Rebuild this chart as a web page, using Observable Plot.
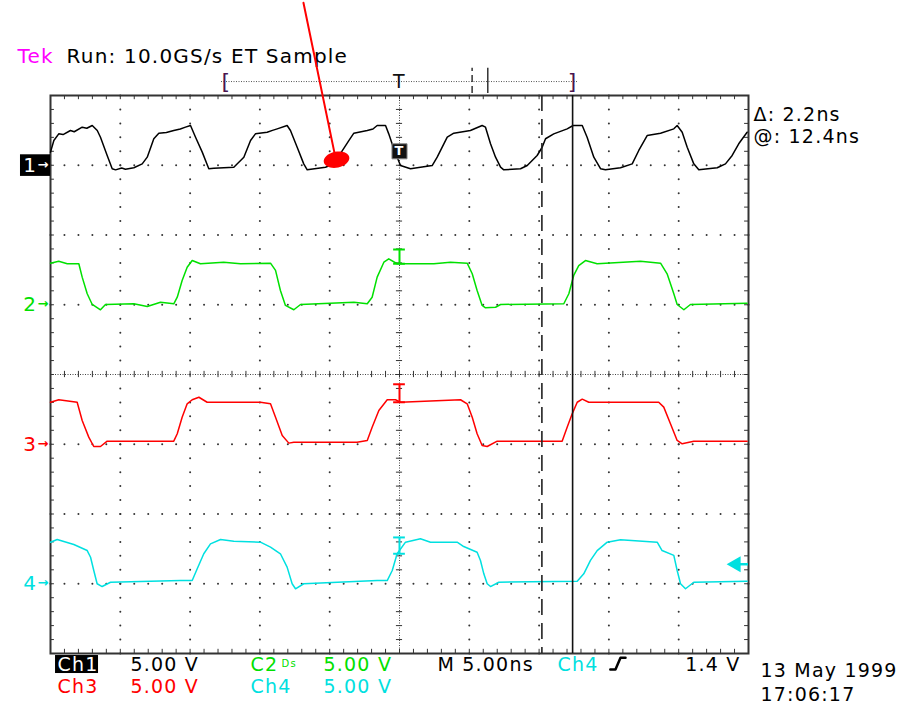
<!DOCTYPE html>
<html><head><meta charset="utf-8">
<script src="https://cdn.jsdelivr.net/npm/d3@7"></script>
<script src="https://cdn.jsdelivr.net/npm/@observablehq/plot@0.6"></script>
<style>
body{margin:0;background:#fff;}
#chart svg text{letter-spacing:1.2px;}
</style></head><body><div id="chart"></div>
<script>
// ---- scope settings ----
const channelNames = ["1", "2", "3", "4"];
const channelColors = ["#000000", "#00e000", "#ff0000", "#00e0e0"];
const channelOffsetDiv = [3, 1, -1, -3];
const voltsPerDiv = [5.00, 5.00, 5.00, 5.00];
const timePerDiv = 5.00;            // ns / div
const sampleRate = "10.0GS/s";
const cursorA = 10.2, cursorB = 12.4; // ns from trigger
const triggerLevel = 1.4;           // V on Ch4
const recordRatio = 0.51;           // record-view compression
const dateText = "13 May 1999", timeText = "17:06:17";

// ---- waveforms: time (ns from trigger) and volts ----
const ch1T = [-25,-24.76,-24.41,-24.1,-23.57,-23.3,-22.73,-22.4,-22.01,-21.65,-21.42,-20.94,-20.58,-20.34,-19.9,-19.63,-19.03,-18.43,-18.07,-17.6,-17.24,-16.7,-16.17,-15.7,-15.33,-14.97,-14.61,-14.13,-13.66,-13.3,-11.87,-11.15,-10.67,-10.32,-9.48,-9.1,-8.76,-8.05,-7.81,-7.33,-6.86,-6.61,-5.3,-4.71,-3.63,-3.27,-2.31,-1.9,-1.6,-1.0,-0.77,-0.41,0.07,0.79,1.5,2.34,2.7,3.42,3.89,5.08,5.92,6.16,6.52,6.88,7.24,7.47,8.67,9.15,9.86,10.22,10.46,11.05,12.01,12.44,13.09,13.44,13.92,14.4,14.75,15.83,16.67,17.14,17.74,18.7,19.65,19.89,20.25,20.61,21.08,21.44,22.76,23.35,23.83,24.3,24.9];
const ch1V = [0.94,1.77,2.25,2.2,2.49,2.4,2.73,2.65,2.85,2.49,2.01,0.7,-0.25,-0.33,-0.2,-0.28,-0.18,0.1,0.58,1.9,2.3,2.35,2.49,2.6,2.73,2.85,2.01,0.94,-0.25,-0.21,-0.14,0.58,1.77,2.25,2.37,2.5,2.61,2.85,2.49,1.29,0.1,-0.33,-0.14,0.1,1.77,2.3,2.49,2.6,2.85,2.85,2.25,1.18,-0.02,-0.25,-0.14,-0.02,0.58,2.01,2.3,2.49,2.85,2.73,1.54,0.58,-0.14,-0.33,-0.25,-0.02,0.7,1.29,1.9,2.25,2.61,2.85,2.85,2.01,0.58,-0.25,-0.33,-0.18,0.1,1.06,2.13,2.3,2.61,2.85,2.37,1.29,0.1,-0.33,-0.18,0.1,0.7,1.54,2.37];

const ch2T = [-25,-24.41,-23.8,-22.97,-22.73,-22.37,-22.01,-21.42,-21.06,-19.03,-18.07,-17.12,-16.17,-15.92,-15.57,-15.21,-14.85,-14.26,-12.6,-11.39,-9.24,-8.88,-8.53,-8.17,-7.57,-7.09,-3.27,-2.31,-1.96,-1.6,-1.12,-0.77,-0.17,2.46,3.65,4.85,5.21,5.56,5.92,6.16,6.88,7.24,11.77,12.13,12.48,12.84,13.32,14.16,17.26,18.7,19.17,19.65,19.89,20.37,20.84,24.9];
const ch2V = [2.98,3.12,2.94,2.94,1.98,0.79,0.02,-0.36,0.02,0.07,-0.13,0.18,0.07,0.54,1.74,2.69,3.17,2.94,3.05,2.94,2.98,2.46,1.02,-0.05,-0.36,0.02,0.18,0.07,0.54,1.98,3.05,3.29,2.94,2.94,3.05,2.98,2.22,1.02,-0.05,-0.22,-0.18,0.02,0.07,0.79,2.1,2.81,3.17,2.94,3.12,2.98,2.22,0.79,0.02,-0.36,0.02,0.11];

const ch3T = [-25,-24.41,-23.09,-22.73,-22.26,-21.9,-21.42,-20.94,-19.51,-16.17,-15.92,-15.57,-15.21,-14.85,-14.37,-13.78,-9.96,-9.24,-8.88,-8.4,-7.93,-7.57,-3.04,-2.31,-1.96,-1.48,-0.88,-0.29,0.07,4.37,4.85,5.21,5.56,5.92,6.28,7.0,11.65,12.01,12.37,12.73,13.09,13.56,18.57,18.93,19.41,19.89,20.25,21.08,24.9];
const ch3V = [3.01,3.19,3.01,1.7,0.51,-0.16,-0.16,0.22,0.22,0.22,0.75,1.94,2.9,3.19,3.37,3.01,3.01,2.9,1.94,0.63,0.08,0.15,0.15,0.27,1.22,2.42,3.19,3.19,3.01,3.19,2.9,1.94,0.75,-0.09,-0.16,0.22,0.22,1.22,2.18,3.01,3.23,3.01,3.01,2.66,1.47,0.27,0.03,0.22,0.22];

const ch4T = [-25,-24.52,-23.33,-22.37,-22.13,-21.9,-21.66,-21.3,-20.7,-15.69,-14.85,-14.49,-14.02,-13.54,-12.82,-11.87,-9.96,-9.24,-8.53,-8.05,-7.69,-7.45,-6.86,-1.6,-0.88,-0.52,-0.17,0.43,1.5,2.22,4.13,4.6,5.56,5.8,6.04,6.28,6.52,7.11,12.73,13.2,13.68,14.16,14.88,15.83,18.46,18.81,19.65,19.89,20.13,20.49,21.08,24.9];
const ch4V = [2.98,3.17,2.81,2.38,1.9,0.95,0.0,-0.2,0.11,0.23,0.23,1.07,2.15,2.86,3.17,3.05,2.98,2.62,2.15,1.19,0.0,-0.36,0.0,0.23,0.23,0.95,2.15,2.98,3.22,2.98,2.98,2.67,2.26,1.67,0.71,0.0,-0.2,0.11,0.18,0.71,1.67,2.38,2.98,3.15,2.98,2.38,2.03,0.95,0.0,-0.36,0.11,0.18];

const waveT = [ch1T, ch2T, ch3T, ch4T];
const waveV = [ch1V, ch2V, ch3V, ch4V];
// trigger-position icons per channel (volts, bottom..top)
const markerLo = [null, 2.94, 3.01, 2.15];
const markerHi = [null, 3.96, 4.3, 3.32];

// ---- derived tables ----
const toDiv = (v, i) => channelOffsetDiv[i] + v / voltsPerDiv[i];
const waves = waveT.map((T, i) => T.map((t, j) => ({t, y: toDiv(waveV[i][j], i)})));
const halfSpan = 5 * timePerDiv;
const minorT = d3.range(-halfSpan, halfSpan + 0.001, timePerDiv / 5).map(v => +v.toFixed(3));
const minorY = d3.range(-4, 4.001, 0.2).map(v => +v.toFixed(2));
const majorT = d3.range(-halfSpan + timePerDiv, halfSpan, timePerDiv).filter(t => Math.abs(t) > 1e-9);
const gridDots = [];
for (const y of [-3, -2, -1, 1, 2, 3]) for (const t of minorT) gridDots.push({t, y});
for (const t of majorT) for (const y of minorY) gridDots.push({t, y});

const ellipse = {draw(ctx) {
  const rx = 13, ry = 8, k = 0.5523;
  ctx.moveTo(rx, 0);
  ctx.bezierCurveTo(rx, ry * k, rx * k, ry, 0, ry);
  ctx.bezierCurveTo(-rx * k, ry, -rx, ry * k, -rx, 0);
  ctx.bezierCurveTo(-rx, -ry * k, -rx * k, -ry, 0, -ry);
  ctx.bezierCurveTo(rx * k, -ry, rx, -ry * k, rx, 0);
  ctx.closePath();
}};

const T = (text, x, y, fill, o = {}) => Plot.text([text], {x, y, text: d => d, fill, fontSize: 19, textAnchor: "start", lineAnchor: "bottom", ...o});
const vText = i => `${voltsPerDiv[i].toFixed(2)} V`;
const row1 = -4.244, row2 = -4.573;

const marks = [
  Plot.frame({stroke: "#333", strokeWidth: 2}),
  Plot.dot(gridDots, {x: "t", y: "y", r: 1, fill: "#333", stroke: null}),
  // centre cross
  Plot.ruleY([0], {stroke: "#444", strokeDasharray: "1,1.5"}),
  Plot.ruleX([0], {stroke: "#444", strokeDasharray: "1,1.5"}),
  Plot.ruleX(minorT, {x: d => d, y1: -0.045, y2: 0.045, stroke: "#333"}),
  Plot.ruleY(minorY, {y: d => d, x1: -0.22, x2: 0.22, stroke: "#333"}),
  // border ticks
  Plot.ruleX(minorT, {x: d => d, y1: 4, y2: 3.94, stroke: "#333"}),
  Plot.ruleX(minorT, {x: d => d, y1: -4, y2: -3.94, stroke: "#333"}),
  Plot.ruleY(minorY, {y: d => d, x1: -halfSpan, x2: -halfSpan + 0.28, stroke: "#333"}),
  Plot.ruleY(minorY, {y: d => d, x1: halfSpan, x2: halfSpan - 0.28, stroke: "#333"}),
  // waveforms
  ...waves.map((w, i) => Plot.line(w, {x: "t", y: "y", stroke: channelColors[i], strokeWidth: 1.5})),
  // cursors
  Plot.ruleX([cursorA], {stroke: "#222", strokeWidth: 1.6, strokeDasharray: "16,8"}),
  Plot.ruleX([cursorB], {stroke: "#111", strokeWidth: 1.6}),
  // trigger-position icons on channels 2-4
  ...[1, 2, 3].flatMap(i => [
    Plot.ruleX([0], {y1: toDiv(markerLo[i], i), y2: toDiv(markerHi[i], i), stroke: channelColors[i], strokeWidth: 2}),
    Plot.ruleY([toDiv(markerLo[i], i), toDiv(markerHi[i], i)], {x1: -0.42, x2: 0.42, stroke: channelColors[i], strokeWidth: 2})
  ]),
  // Ch1 trigger icon
  Plot.dot([0], {x: 0, y: toDiv(1.0, 0), symbol: "square", r: 8.5, fill: "#111", stroke: "#888", strokeWidth: 1}),
  Plot.text(["T"], {x: 0, y: toDiv(1.0, 0), text: d => d, fill: "white", fontSize: 13, fontWeight: "bold", lineAnchor: "middle"}),
  // trigger level arrow (Ch4)
  Plot.ruleY([toDiv(triggerLevel, 3)], {x1: halfSpan - 0.75, x2: halfSpan, stroke: channelColors[3], strokeWidth: 2.5}),
  Plot.dot([0], {x: halfSpan - 0.9, y: toDiv(triggerLevel, 3), symbol: "triangle", rotate: -90, r: 6, fill: channelColors[3], stroke: null}),
  // channel ground markers
  Plot.rect([0], {x1: -27.15, x2: -halfSpan, y1: channelOffsetDiv[0] - 0.16, y2: channelOffsetDiv[0] + 0.15, fill: "black"}),
  ...channelNames.map((n, i) => Plot.text([n], {x: -26.95, y: channelOffsetDiv[i], text: d => d, fill: i === 0 ? "white" : channelColors[i], fontSize: 20, textAnchor: "start", lineAnchor: "middle"})),
  ...channelNames.map((n, i) => Plot.text(["→"], {x: -25.93, y: channelOffsetDiv[i] + 0.01, text: d => d, fill: i === 0 ? "white" : channelColors[i], fontSize: 13, fontWeight: "bold", textAnchor: "start", lineAnchor: "middle"})),
  // record view at top
  Plot.ruleY([4.2], {x1: -halfSpan * recordRatio, x2: halfSpan * recordRatio, stroke: "#555", strokeDasharray: "1,1.5"}),
  Plot.text(["["], {x: -halfSpan * recordRatio, y: 4.2, text: d => d, fill: "#4a1450", fontSize: 22, textAnchor: "start", lineAnchor: "middle"}),
  Plot.text(["]"], {x: halfSpan * recordRatio, y: 4.2, text: d => d, fill: "#4a1450", fontSize: 22, textAnchor: "end", lineAnchor: "middle"}),
  Plot.text(["T"], {x: 0, y: 4.2, text: d => d, fill: "#111", fontSize: 19, lineAnchor: "middle"}),
  Plot.ruleX([cursorA * recordRatio], {y1: 4.03, y2: 4.39, stroke: "#333", strokeWidth: 1.5, strokeDasharray: "7,4"}),
  Plot.ruleX([cursorB * recordRatio], {y1: 4.03, y2: 4.39, stroke: "#333", strokeWidth: 1.5}),
  // header
  T("Tek", -27.36, 4.473, "#ff00ff", {fontSize: 20}),
  T(`Run: ${sampleRate} ET Sample`, -23.85, 4.473, "black", {fontSize: 20}),
  // cursor readout
  T(`Δ: ${(cursorB - cursorA).toFixed(1)}ns`, 25.36, 3.634, "black"),
  T(`@: ${cursorB.toFixed(1)}ns`, 25.36, 3.312, "black"),
  // bottom readouts
  Plot.rect([0], {x1: -24.64, x2: -21.56, y1: -4.287, y2: -4.029, fill: "black"}),
  T("Ch1", -24.5, row1, "white"),
  T(vText(0), -19.27, row1, "black"),
  T("C2", -10.67, row1, channelColors[1]),
  T("Ds", -8.45, -4.2, channelColors[1], {fontSize: 10}),
  T(vText(1), -5.44, row1, channelColors[1]),
  T(`M ${timePerDiv.toFixed(2)}ns`, 2.72, row1, "black"),
  T("Ch4", 11.32, row1, channelColors[3]),
  Plot.line([[15.1, -4.23], [15.47, -4.23], [15.83, -4.06], [16.19, -4.06]], {x: d => d[0], y: d => d[1], stroke: "black", strokeWidth: 2.5}),
  T(`${triggerLevel} V`, 24.43, row1, "black", {textAnchor: "end"}),
  T(dateText, 25.86, -4.33, "black"),
  T("Ch3", -24.5, row2, channelColors[2]),
  T(vText(2), -19.27, row2, channelColors[2]),
  T("Ch4", -10.67, row2, channelColors[3]),
  T(vText(3), -5.44, row2, channelColors[3]),
  T(timeText, 25.86, -4.674, "black"),
  // red annotation
  Plot.line([[-6.88, 5.33], [-4.6, 3.12]], {x: d => d[0], y: d => d[1], stroke: "#ff0000", strokeWidth: 2}),
  Plot.dot([0], {x: -4.51, y: 3.08, symbol: ellipse, fill: "#ff0000", stroke: null, rotate: -12})
];

const chart = Plot.plot({
  width: 905, height: 705,
  marginLeft: 50, marginRight: 157, marginTop: 95, marginBottom: 52,
  x: {domain: [-halfSpan, halfSpan], axis: null},
  y: {domain: [-4, 4], axis: null},
  style: {fontFamily: "'DejaVu Sans', sans-serif", background: "white", color: "black", overflow: "visible"},
  marks
});
document.getElementById("chart").append(chart);
</script>
</body></html>
